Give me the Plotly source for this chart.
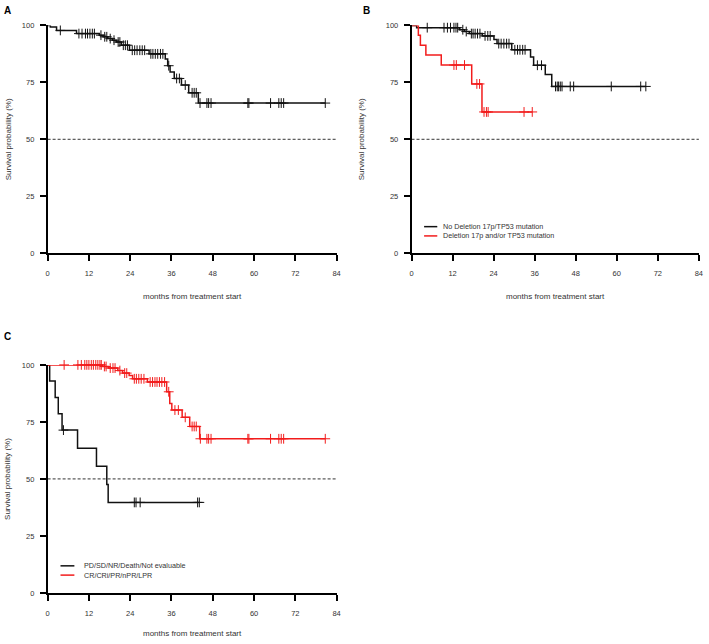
import plotly.graph_objects as go

# ---------------- data ----------------
x_ticks = [0, 12, 24, 36, 48, 60, 72, 84]
y_ticks = [0, 25, 50, 75, 100]

# Panel A: all patients
A_event_t = [0.8, 2.6, 8.4, 15.0, 16.2, 17.5, 18.8, 20.0, 21.4, 23.8, 29.5, 34.2, 34.9, 35.6, 36.8, 38.9, 41.0, 43.8]
A_event_s = [99.3, 97.8, 96.4, 95.7, 95.0, 94.2, 93.5, 92.7, 91.3, 89.1, 87.5, 85.2, 82.3, 79.5, 76.7, 73.8, 70.4, 65.9]
A_censor_t = [3.7, 9.1, 10.0, 11.0, 11.6, 12.3, 13.0, 13.6, 15.5, 16.6, 17.2, 18.2, 19.3, 20.5, 21.0, 22.0,
              22.6, 23.2, 24.6, 25.3, 26.0, 26.8, 27.5, 28.2, 30.0, 30.6, 31.3, 32.0, 32.8, 33.5, 35.2, 37.5,
              38.3, 40.0, 42.0, 42.6, 43.2, 44.3, 46.3, 46.8, 47.5, 58.2, 58.5, 64.8, 67.2, 67.9, 68.6, 80.7]

# Panel B
B_names = ["No Deletion 17p/TP53 mutation", "Deletion 17p and/or TP53 mutation"]
B0_event_t = [1.5, 14.1, 15.5, 16.9, 20.7, 24.1, 25.0, 29.3, 34.8, 35.7, 39.1, 41.0]
B0_event_s = [99.0, 98.1, 97.3, 96.4, 95.4, 93.8, 92.0, 89.3, 86.1, 82.5, 78.4, 73.2]
B0_censor_t = [4.6, 9.5, 10.5, 11.4, 12.4, 13.0, 13.5, 15.0, 16.0, 17.5, 18.0, 18.6, 19.3, 20.0, 21.5, 22.3,
               23.0, 25.5, 26.2, 27.0, 27.8, 28.5, 30.2, 31.0, 31.7, 32.5, 33.2, 36.8, 38.0, 42.1, 42.6,
               43.0, 43.5, 44.0, 46.4, 47.4, 58.4, 67.0, 68.5]
B1_event_t = [2.0, 2.6, 4.2, 8.7, 17.6, 20.6]
B1_event_s = [95.7, 91.3, 87.0, 82.6, 74.3, 62.0]
B1_censor_t = [12.4, 13.1, 15.5, 19.1, 19.9, 21.2, 21.9, 22.4, 32.9, 35.3]

# Panel C
C_names = ["PD/SD/NR/Death/Not evaluable", "CR/CRi/PR/nPR/LPR"]
C0_event_t = [0.6, 2.2, 3.1, 4.2, 8.7, 14.2, 17.2, 17.6]
C0_event_s = [92.9, 85.7, 78.6, 71.4, 63.5, 55.6, 47.6, 39.7]
C0_censor_t = [4.6, 25.2, 25.7, 26.9, 43.6, 44.1]
C1_event_t = [16.0, 17.6, 20.4, 21.8, 23.7, 24.7, 29.0, 34.6, 35.5, 36.1, 39.1, 41.3, 44.2]
C1_event_s = [99.3, 98.6, 97.5, 96.4, 95.3, 93.9, 92.5, 88.2, 83.1, 80.2, 77.0, 73.0, 67.6]
C1_censor_t = [4.8, 8.8, 9.8, 10.8, 11.4, 12.0, 12.7, 13.3, 14.0, 14.6, 15.2, 15.6, 16.5, 17.0, 18.2, 19.0,
               19.6, 21.0, 22.4, 23.0, 25.2, 25.8, 26.5, 27.2, 28.0, 29.8, 30.5, 31.2, 31.8, 32.5, 33.2,
               34.0, 35.2, 37.0, 38.0, 40.0, 42.0, 42.6, 43.2, 44.4, 46.3, 46.8, 47.5, 58.2, 58.5, 64.8,
               67.2, 67.9, 68.6, 80.7]

BLACK = "#111111"
RED = "#f21c1c"
FONT = "Liberation Sans, Arial, sans-serif"
W, H = 709, 644


def surv_at(t, ev_t, ev_s):
    s = 100.0
    for et, es in zip(ev_t, ev_s):
        if et <= t:
            s = es
    return s


def km_traces(ev_t, ev_s, cens_t, color, xa, ya):
    end = max(max(ev_t), max(cens_t))
    xs = [0] + list(ev_t) + [end]
    ys = [100] + list(ev_s) + [ev_s[-1]]
    line = go.Scatter(x=xs, y=ys, mode="lines", line=dict(color=color, width=1.5, shape="hv"),
                      xaxis=xa, yaxis=ya, showlegend=False, cliponaxis=False, hoverinfo="skip")
    cy = [surv_at(t, ev_t, ev_s) for t in cens_t]
    marks = go.Scatter(x=cens_t, y=cy, mode="markers",
                       marker=dict(symbol="cross-thin-open", size=7, color=color,
                                   line=dict(color=color, width=1)),
                       xaxis=xa, yaxis=ya, showlegend=False, cliponaxis=False, hoverinfo="skip")
    return [line, marks]


def dashed(xa, ya):
    return go.Scatter(x=[0, 85.5], y=[50, 50], mode="lines",
                      line=dict(color="#333333", width=1, dash="3px,2px"),
                      xaxis=xa, yaxis=ya, showlegend=False, cliponaxis=False, hoverinfo="skip")


fig = go.Figure()
fig.add_trace(dashed("x", "y"))
fig.add_trace(dashed("x2", "y2"))
fig.add_trace(dashed("x3", "y3"))
for tr in km_traces(A_event_t, A_event_s, A_censor_t, BLACK, "x", "y"):
    fig.add_trace(tr)
for tr in km_traces(B0_event_t, B0_event_s, B0_censor_t, BLACK, "x2", "y2"):
    fig.add_trace(tr)
for tr in km_traces(B1_event_t, B1_event_s, B1_censor_t, RED, "x2", "y2"):
    fig.add_trace(tr)
for tr in km_traces(C0_event_t, C0_event_s, C0_censor_t, BLACK, "x3", "y3"):
    fig.add_trace(tr)
for tr in km_traces(C1_event_t, C1_event_s, C1_censor_t, RED, "x3", "y3"):
    fig.add_trace(tr)


def px_x(p):
    return p / W


def px_y(p):
    return 1 - p / H


tickfont = dict(family=FONT, size=7.5, color="#333333")
xax = dict(range=[0, 84], tickvals=x_ticks, ticks="outside", ticklen=6, tickwidth=1.5,
           tickcolor="black", showline=True, linecolor="black", linewidth=1.5,
           showgrid=False, zeroline=False, tickfont=tickfont, ticklabelstandoff=6, fixedrange=True)
yax = dict(range=[0, 100], tickvals=y_ticks, ticks="outside", ticklen=6, tickwidth=1.5,
           tickcolor="black", showline=True, linecolor="black", linewidth=1.5,
           showgrid=False, zeroline=False, tickfont=tickfont, ticklabelstandoff=4, fixedrange=True)

A_xd = [px_x(46), px_x(46 + 84 * 3.47)]
B_xd = [px_x(413), px_x(413 + 84 * 3.45)]
AB_yd = [px_y(252.7), px_y(21.7)]
C_yd = [px_y(597.3), px_y(366)]

fig.update_layout(
    width=W, height=H, margin=dict(l=0, r=0, t=0, b=0),
    paper_bgcolor="white", plot_bgcolor="white", showlegend=False,
    xaxis=dict(xax, domain=A_xd, anchor="y"),
    yaxis=dict(yax, domain=AB_yd, anchor="x"),
    xaxis2=dict(xax, domain=B_xd, anchor="y2"),
    yaxis2=dict(yax, domain=AB_yd, anchor="x2"),
    xaxis3=dict(xax, domain=A_xd, anchor="y3"),
    yaxis3=dict(yax, domain=C_yd, anchor="x3"),
)

ann = []
lab = dict(family=FONT, size=8, color="#333333")
# axis titles
for cx, cy in [(191.7, 296.5), (557.9, 296.5), (191.7, 638.5)]:
    ann.append(dict(x=px_x(cx), y=px_y(cy), xref="paper", yref="paper", text="months from treatment start",
                    showarrow=False, font=lab, xanchor="center", yanchor="middle"))
for cx, cy in [(6, 137.2), (362, 137.2), (6, 481.7)]:
    ann.append(dict(x=px_x(cx), y=px_y(cy), xref="paper", yref="paper", text="Survival probability (%)",
                    showarrow=False, font=lab, textangle=-90, xanchor="center", yanchor="middle"))
# panel letters
for letter, cx, cy in [("A", 6, 6.5), ("B", 368, 6.5), ("C", 6, 337)]:
    ann.append(dict(x=px_x(cx), y=px_y(cy), xref="paper", yref="paper", text="<b>%s</b>" % letter,
                    showarrow=False, font=dict(family=FONT, size=10, color="black"),
                    xanchor="center", yanchor="middle"))

# legends
shapes = []
leg_font = dict(family=FONT, size=7.2, color="#333333")
for names, colors, lx0, lx1, tx, ys in [
    (B_names, [BLACK, RED], 425.7, 439, 444, [225.8, 235.2]),
    (C_names, [BLACK, RED], 59, 73, 82, [569.8, 579.2]),
]:
    for nm, col, yy in zip(names, colors, ys):
        shapes.append(dict(type="line", xref="paper", yref="paper", x0=px_x(lx0), x1=px_x(lx1),
                           y0=px_y(yy), y1=px_y(yy), line=dict(color=col, width=1.5)))
        ann.append(dict(x=px_x(tx), y=px_y(yy), xref="paper", yref="paper", text=nm, showarrow=False,
                        font=leg_font, xanchor="left", yanchor="middle", borderpad=0))

fig.update_layout(annotations=ann, shapes=shapes)

fig.write_html("out.html", config={"displayModeBar": False},
               post_script="document.body.style.margin='0';")
